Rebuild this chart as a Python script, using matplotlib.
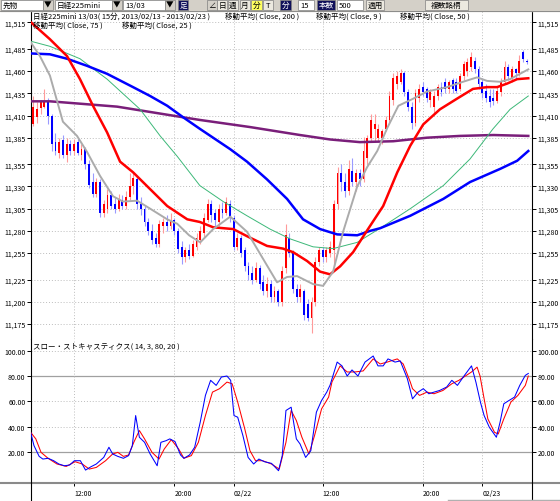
import numpy as np
import matplotlib.pyplot as plt
from matplotlib.patches import Rectangle

plt.rcParams['font.family'] = ['Noto Sans CJK JP', 'DejaVu Sans']

# 15-minute bars of the Nikkei 225 mini 13/03, bar 1 = 02/21 09:15
opens = [11400, 11408, 11418, 11420, 11425, 11410, 11380, 11368, 11382, 11365,
         11378, 11370, 11380, 11366, 11372, 11355, 11335, 11322, 11335, 11300,
         11305, 11320, 11310, 11305, 11315, 11308, 11318, 11330, 11338, 11310,
         11305, 11290, 11280, 11272, 11265, 11285, 11290, 11285, 11292, 11280,
         11262, 11250, 11258, 11252, 11262, 11270, 11278, 11292, 11310, 11300,
         11290, 11305, 11300, 11310, 11295, 11262, 11272, 11258, 11240, 11232,
         11225, 11238, 11222, 11212, 11220, 11205, 11212, 11200, 11238, 11272,
         11255, 11215, 11205, 11212, 11198, 11182, 11200, 11245, 11258, 11250,
         11255, 11258, 11310, 11345, 11335, 11325, 11348, 11335, 11345, 11338,
         11362, 11385, 11395, 11385, 11385, 11395, 11405, 11428, 11445, 11448,
         11458, 11436, 11420, 11402, 11430, 11442, 11440, 11428, 11420, 11432,
         11442, 11448, 11440, 11450, 11448, 11440, 11455, 11460, 11465, 11472,
         11462, 11448, 11438, 11432, 11430, 11426, 11436, 11448, 11465, 11452,
         11462, 11458, 11482, 11472]
highs = [11432, 11425, 11428, 11440, 11430, 11412, 11390, 11385, 11388, 11385,
         11382, 11383, 11385, 11378, 11375, 11360, 11345, 11340, 11338, 11315,
         11327, 11325, 11318, 11322, 11320, 11325, 11345, 11345, 11342, 11318,
         11308, 11295, 11288, 11278, 11292, 11295, 11298, 11300, 11295, 11283,
         11268, 11262, 11265, 11270, 11278, 11285, 11300, 11316, 11315, 11305,
         11310, 11312, 11318, 11315, 11298, 11278, 11275, 11262, 11245, 11240,
         11245, 11242, 11230, 11228, 11225, 11218, 11215, 11240, 11288, 11278,
         11258, 11220, 11220, 11215, 11203, 11205, 11250, 11262, 11262, 11262,
         11268, 11315, 11352, 11355, 11345, 11360, 11362, 11350, 11350, 11386,
         11388, 11412, 11412, 11400, 11395, 11410, 11438, 11458, 11460, 11462,
         11460, 11440, 11425, 11440, 11445, 11448, 11442, 11440, 11438, 11445,
         11448, 11452, 11450, 11452, 11452, 11458, 11472, 11475, 11482, 11476,
         11466, 11452, 11445, 11440, 11440, 11442, 11452, 11472, 11468, 11466,
         11464, 11478, 11484, 11474]
lows = [11398, 11402, 11412, 11418, 11400, 11370, 11365, 11362, 11362, 11358,
        11366, 11365, 11365, 11360, 11350, 11328, 11318, 11318, 11296, 11296,
        11300, 11305, 11300, 11302, 11305, 11305, 11315, 11322, 11305, 11298,
        11285, 11275, 11265, 11262, 11262, 11278, 11280, 11282, 11275, 11255,
        11243, 11245, 11248, 11250, 11258, 11265, 11272, 11290, 11290, 11285,
        11285, 11295, 11298, 11290, 11258, 11258, 11250, 11235, 11225, 11220,
        11222, 11215, 11208, 11205, 11200, 11200, 11195, 11195, 11232, 11250,
        11210, 11200, 11200, 11180, 11178, 11165, 11195, 11240, 11245, 11245,
        11250, 11240, 11305, 11325, 11318, 11320, 11330, 11325, 11330, 11335,
        11355, 11380, 11380, 11380, 11378, 11392, 11400, 11422, 11440, 11445,
        11432, 11415, 11395, 11398, 11425, 11432, 11425, 11420, 11412, 11428,
        11432, 11435, 11435, 11435, 11435, 11438, 11450, 11455, 11460, 11458,
        11440, 11430, 11425, 11420, 11422, 11424, 11432, 11445, 11450, 11448,
        11452, 11455, 11470, 11468]
closes = [11420, 11417, 11425, 11425, 11410, 11378, 11370, 11380, 11366, 11378,
          11370, 11378, 11368, 11372, 11355, 11332, 11322, 11335, 11300, 11310,
          11320, 11308, 11305, 11315, 11308, 11318, 11330, 11340, 11310, 11305,
          11290, 11280, 11270, 11265, 11288, 11290, 11285, 11292, 11280, 11260,
          11250, 11258, 11252, 11265, 11272, 11280, 11295, 11310, 11298, 11292,
          11305, 11300, 11312, 11295, 11262, 11272, 11255, 11240, 11230, 11225,
          11238, 11220, 11212, 11220, 11205, 11212, 11200, 11235, 11275, 11255,
          11215, 11205, 11215, 11185, 11182, 11200, 11245, 11258, 11250, 11258,
          11262, 11310, 11345, 11335, 11325, 11350, 11335, 11345, 11338, 11370,
          11385, 11405, 11400, 11395, 11392, 11405, 11432, 11452, 11455, 11458,
          11436, 11420, 11402, 11435, 11440, 11436, 11430, 11436, 11432, 11442,
          11436, 11440, 11448, 11440, 11438, 11455, 11468, 11470, 11476, 11462,
          11445, 11435, 11430, 11425, 11426, 11438, 11448, 11465, 11455, 11462,
          11458, 11472, 11474, 11470]

# moving averages (bar position, price)
ma9_x = [0.1, 2.8, 5.5, 9.0, 12.8, 15.5, 19.0, 22.5, 25.2, 29.0, 32.5, 37.1, 39.8,
         43.0, 46.0, 49.5, 54.1, 58.6, 63.0, 66.7, 69.4, 72.1, 76.4, 79.1, 81.8,
         84.5, 88.3, 91.0, 93.7, 96.4, 99.4, 103.4, 107.1, 112.5, 116.8, 120.6,
         123.3, 126.8, 129.5, 134.4]
ma9_y = [11494, 11477, 11455, 11403, 11387, 11369, 11342, 11319, 11313, 11314,
         11305, 11293, 11288, 11275, 11267, 11282, 11296, 11279, 11248, 11222,
         11228, 11229, 11220, 11218, 11234, 11279, 11330, 11352, 11370, 11396,
         11421, 11429, 11437, 11442, 11448, 11453, 11449, 11448, 11451, 11462]
ma25_x = [0.4, 5.5, 10.1, 13.6, 17.1, 20.9, 24.4, 27.9, 32.5, 37.1, 42.5, 45.9,
          49.5, 54.9, 58.6, 64.0, 68.3, 71.0, 74.8, 78.3, 81.0, 83.7, 87.2, 90.9,
          95.3, 99.1, 102.6, 106.1, 110.6, 115.2, 119.5, 123.3, 126.0, 128.7,
          131.4, 134.4]
ma25_y = [11515, 11496, 11477, 11451, 11421, 11391, 11358, 11346, 11327, 11308,
          11293, 11290, 11284, 11282, 11274, 11263, 11260, 11256, 11246, 11234,
          11231, 11240, 11256, 11280, 11308, 11346, 11376, 11400, 11417, 11429,
          11440, 11442, 11442, 11446, 11451, 11452]
ma50_x = [0.1, 5.5, 13.6, 20.9, 29.8, 35.2, 39.8, 45.9, 52.2, 58.6, 64.8, 70.2,
          76.4, 81.8, 88.3, 94.5, 102.6, 111.5, 118.7, 124.9, 129.5, 134.4]
ma50_y = [11494, 11488, 11474, 11451, 11417, 11387, 11364, 11331, 11313, 11297,
          11282, 11271, 11262, 11260, 11267, 11283, 11305, 11331, 11361, 11395,
          11417, 11432]
ma75_x = [0.1, 5.5, 10.1, 15.5, 20.9, 27.9, 32.5, 37.1, 41.4, 45.9, 54.1, 58.6,
          64.0, 69.4, 73.7, 78.3, 82.9, 88.3, 91.8, 94.5, 102.6, 111.5, 118.7,
          126.9, 131.4, 134.4]
ma75_y = [11480, 11479, 11474, 11466, 11457, 11442, 11432, 11421, 11408, 11395,
          11372, 11358, 11338, 11316, 11293, 11282, 11276, 11275, 11280, 11283,
          11297, 11316, 11335, 11350, 11359, 11370]
ma200_x = [0.1, 5.5, 14.6, 23.6, 32.5, 41.4, 45.9, 59.4, 72.9, 81.0, 89.0, 98.0,
           107.1, 116.0, 125.0, 134.4]
ma200_y = [11426, 11426, 11423, 11420, 11414, 11408, 11405, 11397, 11388, 11383,
           11380, 11381, 11385, 11387, 11388, 11387]

# slow stochastics (14, 3, 80, 20)
k_x = [0.3, 1.2, 2.6, 3.6, 5.0, 6.5, 7.9, 9.4, 10.8, 12.1, 13.7, 15.1, 16.6, 18.0,
       20.0, 21.4, 22.4, 23.8, 25.3, 26.7, 27.7, 28.6, 29.6, 31.0, 32.5, 34.4,
       35.4, 36.8, 37.8, 39.2, 40.7, 41.6, 43.1, 44.5, 46.0, 47.4, 48.8, 50.3,
       51.7, 53.2, 54.2, 55.1, 56.1, 57.5, 58.9, 60.4, 61.8, 63.3, 65.2, 67.1,
       68.1, 69.1, 70.5, 71.9, 72.9, 74.4, 75.8, 77.3, 78.7, 80.1, 81.0, 82.9,
       84.2, 85.6, 86.9, 88.5, 90.4, 92.6, 93.9, 95.3, 96.6, 98.5, 99.9, 101.8,
       103.2, 104.7, 106.1, 107.6, 109.0, 110.5, 112.4, 113.8, 115.3, 117.2,
       119.1, 120.3, 121.5, 122.5, 123.9, 125.8, 126.8, 127.8, 129.2, 130.7,
       132.1, 133.6, 134.4]
k_v = [35.6, 25.1, 16.6, 14.5, 15.1, 13.2, 10.6, 9.2, 9.8, 13.2, 13.2, 5.8, 8.5,
       10.6, 15.8, 23.8, 18.5, 16.6, 15.1, 17.2, 25.1, 48.8, 31.7, 27.7, 18.5,
       9.2, 27.7, 29.0, 30.4, 28.3, 17.7, 15.1, 17.7, 23.8, 43.6, 64.7, 76.6,
       72.6, 79.2, 80.0, 76.6, 48.8, 47.5, 33.0, 15.8, 10.6, 14.5, 12.4, 11.1,
       5.3, 17.2, 52.8, 55.4, 30.4, 26.4, 15.8, 21.1, 51.5, 60.7, 67.3, 72.9,
       91.0, 88.0, 80.0, 84.8, 80.0, 91.0, 95.8, 88.0, 88.0, 93.5, 91.0, 91.9,
       78.0, 62.0, 67.3, 70.0, 66.0, 67.3, 68.6, 71.3, 76.6, 72.6, 80.5, 88.0,
       75.0, 59.4, 48.8, 39.6, 31.7, 43.6, 58.1, 60.7, 63.4, 72.6, 80.5, 82.0]
d_x = [0.3, 1.7, 3.1, 5.0, 7.4, 9.9, 12.3, 14.2, 16.1, 18.0, 20.5, 22.4, 23.8,
       25.3, 26.7, 28.1, 29.6, 31.0, 33.0, 34.9, 36.3, 38.2, 40.2, 41.6, 43.6,
       45.5, 47.4, 49.3, 51.2, 53.2, 54.6, 56.1, 58.0, 59.4, 60.9, 62.8, 65.2,
       67.3, 69.1, 70.5, 71.9, 73.4, 75.3, 76.8, 78.7, 80.6, 81.5, 83.7, 85.6,
       87.7, 89.9, 92.6, 94.5, 96.4, 99.1, 100.7, 102.6, 103.2, 105.1, 107.1,
       109.0, 111.4, 113.8, 115.7, 117.7, 119.1, 120.6, 121.4, 122.5, 123.5,
       125.3, 126.3, 127.8, 129.7, 131.6, 133.6, 134.4]
d_v = [35.6, 30.4, 19.8, 15.1, 10.6, 8.7, 12.4, 10.6, 6.6, 7.9, 13.2, 18.5, 19.8,
       16.6, 17.7, 27.7, 37.0, 30.4, 19.8, 14.5, 22.4, 29.8, 22.4, 15.1, 17.2,
       27.7, 48.8, 67.3, 70.0, 75.2, 73.9, 59.4, 38.3, 21.1, 13.2, 13.2, 10.6,
       6.6, 27.7, 52.8, 44.9, 31.7, 18.5, 33.0, 54.1, 63.4, 75.3, 88.0, 83.2,
       83.2, 84.0, 93.5, 89.5, 91.0, 93.5, 89.5, 75.3, 70.0, 64.7, 67.3, 66.0,
       68.6, 73.9, 76.6, 80.5, 83.2, 87.0, 80.0, 62.0, 46.2, 35.6, 34.3, 46.2,
       59.4, 64.7, 72.6, 80.0]

tick_bars = [12, 39, 55, 79, 106, 122]
tick_labels = ['12:00', '20:00', '02/22', '12:00', '20:00', '02/23']
price_ticks = [11515, 11485, 11460, 11435, 11410, 11385, 11355, 11330, 11305,
               11280, 11255, 11225, 11200, 11175]
stoch_ticks = [100, 80, 60, 40, 20]

W, H = 560, 502


def frect(x0, y0, x1, y1):
    return [x0 / W, 1 - y1 / H, (x1 - x0) / W, (y1 - y0) / H]


fig = plt.figure(figsize=(W / 100, H / 100), dpi=100)
ax1 = fig.add_axes(frect(31, 12, 532, 340))
ax2 = fig.add_axes(frect(31, 340, 532, 483), sharex=ax1)

grid = dict(color='#bdbdbd', lw=0.7, ls=(0, (1, 2)), zorder=0)
for p in price_ticks:
    ax1.axhline(p, **grid)
for v in [100, 60, 40]:
    ax2.axhline(v, **grid)
for v in [80, 20]:
    ax2.axhline(v, color='#a0a0a0', lw=0.9, zorder=0)
for b in tick_bars:
    ax1.axvline(b, **grid)
    ax2.axvline(b, **grid)

# candlesticks
o = np.array(opens)
c = np.array(closes)
bars = np.arange(1, len(c) + 1)
up = c >= o
wick_col = np.where(up, '#ff9a9a', '#9a9aff')
body_col = np.where(up, '#ff0000', '#0000ff')
ax1.vlines(bars, lows, highs, colors=wick_col, lw=0.8, zorder=2)
ax1.bar(bars, np.maximum(np.abs(c - o), 1.5), bottom=np.minimum(o, c),
        width=0.5, color=body_col, zorder=3)

ax1.plot(ma200_x, ma200_y, color='#7a1e7a', lw=1.8, zorder=4)
ax1.plot(ma50_x, ma50_y, color='#3cb878', lw=0.7, zorder=4)
ax1.plot(ma75_x, ma75_y, color='#0000ff', lw=1.8, zorder=5)
ax1.plot(ma25_x, ma25_y, color='#ff0000', lw=1.8, zorder=6)
ax1.plot(ma9_x, ma9_y, color='#ababab', lw=1.4, zorder=7)

ax2.plot(d_x, d_v, color='#ff0000', lw=0.75, zorder=3)
ax2.plot(k_x, k_v, color='#0000ff', lw=0.75, zorder=3)

ax1.set_xlim(0.4, 135.4)
ax1.set_ylim(11158.1, 11527.8)
ax2.set_ylim(-3.6, 109.2)

for ax in (ax1, ax2):
    for s in ('top', 'bottom'):
        ax.spines[s].set_visible(False)
    for s in ('left', 'right'):
        ax.spines[s].set_linewidth(0.8)
    ax.tick_params(axis='y', left=True, right=True, labelleft=True,
                   labelright=True, length=3, width=0.7, labelsize=5, pad=1)

ax1.set_yticks(price_ticks)
ax1.set_yticklabels([f'{p:,}' for p in price_ticks])
ax1.tick_params(axis='x', bottom=False, labelbottom=False)
ax2.set_yticks(stoch_ticks)
ax2.set_yticklabels([f'{v:.2f}' for v in stoch_ticks])
ax2.set_xticks(tick_bars)
ax2.set_xticklabels(tick_labels, ha='left')
ax2.tick_params(axis='x', length=3, width=0.7, labelsize=5, pad=2)

# overlay for the frame, toolbar and titles, in pixel units
ov = fig.add_axes([0, 0, 1, 1], zorder=10)
ov.set_xlim(0, W)
ov.set_ylim(H, 0)
ov.axis('off')
ov.plot([0, W], [483.5, 483.5], color='#8a8a8a', lw=1.5)
ov.plot([31, 31], [483, H], color='k', lw=0.8)
ov.plot([532, 532], [483, H], color='k', lw=0.8)
ov.plot([448, W], [501, 501], color='#b0b0b0', lw=1)

ov.add_patch(Rectangle((0, 0), W, 12, color='#d4d0c8'))
ov.plot([0, W], [12, 12], color='#808080', lw=0.6)
tb = dict(fontsize=5.5, va='center', ha='center')


def box(x0, w, txt, face='white', fg='k', ha='center'):
    ov.add_patch(Rectangle((x0, 1), w, 10, facecolor=face, edgecolor='#808080', lw=0.5))
    if ha == 'left':
        ov.text(x0 + 2, 6, txt, color=fg, fontsize=5.5, va='center', ha='left')
    else:
        ov.text(x0 + w / 2, 6, txt, color=fg, **tb)


box(1, 42, '先物', ha='left')
box(43, 10, '▼', face='#d4d0c8')
box(55, 57, '日経225mini', ha='left')
box(112, 10, '▼', face='#d4d0c8')
box(123, 42, '13/03', ha='left')
box(165, 10, '▼', face='#d4d0c8')
box(178, 10, '足', face='#10105a', fg='white')
box(207, 10, '∠', face='#d4d0c8')
box(217, 10, '日', face='#ece9e0')
box(228, 10, '週', face='#ece9e0')
box(240, 10, '月', face='#ece9e0')
box(251, 11, '分', face='#ffff60')
box(263, 10, 'T', face='#ece9e0')
box(280, 11, '分', face='#10105a', fg='white')
box(298, 16, '15', ha='left')
box(317, 18, '本数', face='#10105a', fg='white')
box(337, 26, '500', ha='left')
box(366, 18, '適用', face='#ece9e0')
box(425, 43, '複数銘柄', face='#ece9e0')

lg = dict(fontsize=5.4, va='center', ha='left')
ov.text(33, 16.5, '日経225mini 13/03( 15分, 2013/02/13 - 2013/02/23 )', **lg)
ov.text(225, 16.5, '移動平均( Close, 200 )', **lg)
ov.text(316, 16.5, '移動平均( Close, 9 )', **lg)
ov.text(400, 16.5, '移動平均( Close, 50 )', **lg)
ov.text(33, 26, '移動平均( Close, 75 )', **lg)
ov.text(122, 26, '移動平均( Close, 25 )', **lg)
ov.text(33, 347, 'スロー・ストキャスティクス( 14, 3, 80, 20 )', **lg)

fig.savefig('out.png', dpi=100)
